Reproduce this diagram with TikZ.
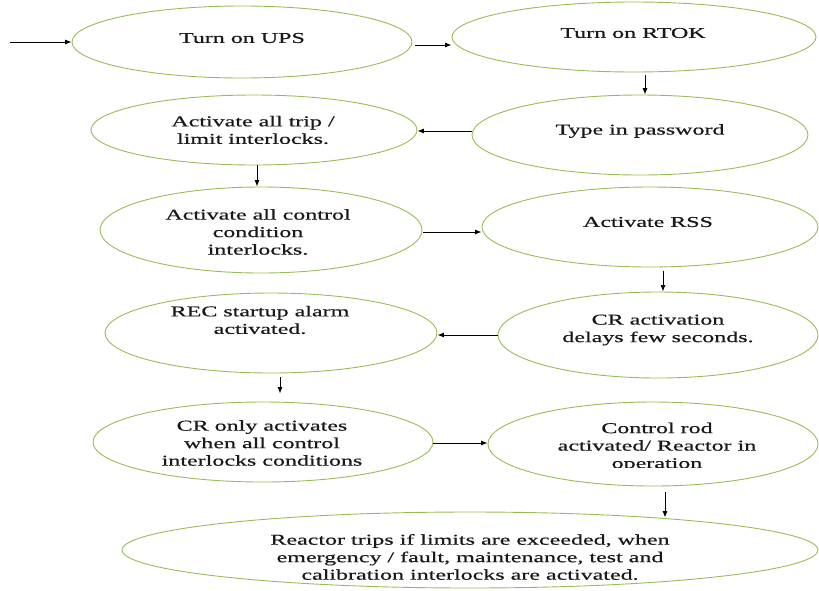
\documentclass[tikz,border=0pt]{standalone}
\usepackage{fontspec}
\setmainfont{Liberation Serif}[FakeStretch=1.6,FakeBold=0.6]
\usetikzlibrary{shapes.geometric,arrows.meta,calc}
\definecolor{ellgreen}{HTML}{9BBB59}
\begin{document}
\begin{tikzpicture}[x=1pt,y=-1pt,
  bubble/.style={ellipse,draw=ellgreen,line width=0.9pt,inner sep=0pt},
  txt/.style={align=center,font=\fontsize{15}{17.5}\selectfont,inner sep=0pt,text=black!90},
  arr/.style={-{Latex[length=6.5pt,width=5pt]},line width=0.8pt}]
\useasboundingbox (0,0) rectangle (819,590);

% ellipses
\node[bubble,minimum width=340pt,minimum height=72pt] (e1) at (242,42) {};
\node[bubble,minimum width=364pt,minimum height=70pt] (e2) at (634,37) {};
\node[bubble,minimum width=336pt,minimum height=80pt] (e3) at (640,135) {};
\node[bubble,minimum width=326pt,minimum height=70pt] (e4) at (254,130) {};
\node[bubble,minimum width=322pt,minimum height=86pt] (e5) at (261,230) {};
\node[bubble,minimum width=336pt,minimum height=80pt] (e6) at (650,227) {};
\node[bubble,minimum width=320pt,minimum height=86pt] (e7) at (658,335) {};
\node[bubble,minimum width=332pt,minimum height=80pt] (e8) at (271,333) {};
\node[bubble,minimum width=340pt,minimum height=80pt] (e9) at (263,442) {};
\node[bubble,minimum width=330pt,minimum height=84pt] (e10) at (653,444) {};
\node[bubble,minimum width=696pt,minimum height=76pt] (e11) at (470,550) {};

% texts
\node[txt] (t1) at (242,38) {Turn on UPS};
\node[txt] (t2) at (633,33) {Turn on RTOK};
\node[txt] (t3) at (640,131) {Type in password};
\node[txt] (t4) at (253,130) {Activate all trip /\\limit interlocks.};
\node[txt] (t5) at (258,232) {Activate all control\\condition\\interlocks.};
\node[txt] (t6) at (648,222) {Activate RSS};
\node[txt] (t7) at (658,330) {CR activation\\delays few seconds.};
\node[txt] (t8) at (260,320) {REC startup alarm\\activated.};
\node[txt] (t9) at (262,443) {CR only activates\\when all control\\interlocks conditions};
\begin{scope}
  \clip (490,400) rectangle (810,467);
  \node[txt] (t10) at (657,447) {Control rod\\activated/ Reactor in\\operation};
\end{scope}
\node[txt] (t11) at (470,557) {Reactor trips if limits are exceeded, when\\emergency / fault, maintenance, test and\\calibration interlocks are activated.};

% connectors
\coordinate (start) at (10,42);
\draw[arr] (start) -- (e1);
\draw[arr] ([xshift=3pt,yshift=-3pt]e1.east) -- ([yshift=-8pt]e2.west);
\draw[arr] ([xshift=11pt,yshift=-3pt]e2.south) -- ([xshift=5pt]e3.north);
\draw[arr] ([yshift=4pt]e3.west) -- ([yshift=4pt]e3.west -| e4.east);
\draw[arr] ([xshift=3pt]e4.south) -- ([xshift=-4pt]e5.north);
\draw[arr] ([xshift=1pt,yshift=-2pt]e5.east) -- ([yshift=-5pt]e6.west);
\draw[arr] ([xshift=13pt,yshift=-4pt]e6.south) -- ([xshift=5pt]e7.north);
\draw[arr] (e7.west) -- (e7.west -| e8.east);
\draw[arr] ([xshift=9pt,yshift=-4pt]e8.south) -- ([xshift=17pt,yshift=8pt]e9.north);
\draw[arr] ([yshift=-1pt]e9.east) -- ([yshift=-1pt]e9.east -| e10.west);
\draw[arr] ([xshift=12pt,yshift=-6pt]e10.south) -- ([xshift=12pt,yshift=-6pt]e10.south |- e11.north);
\end{tikzpicture}
\end{document}
